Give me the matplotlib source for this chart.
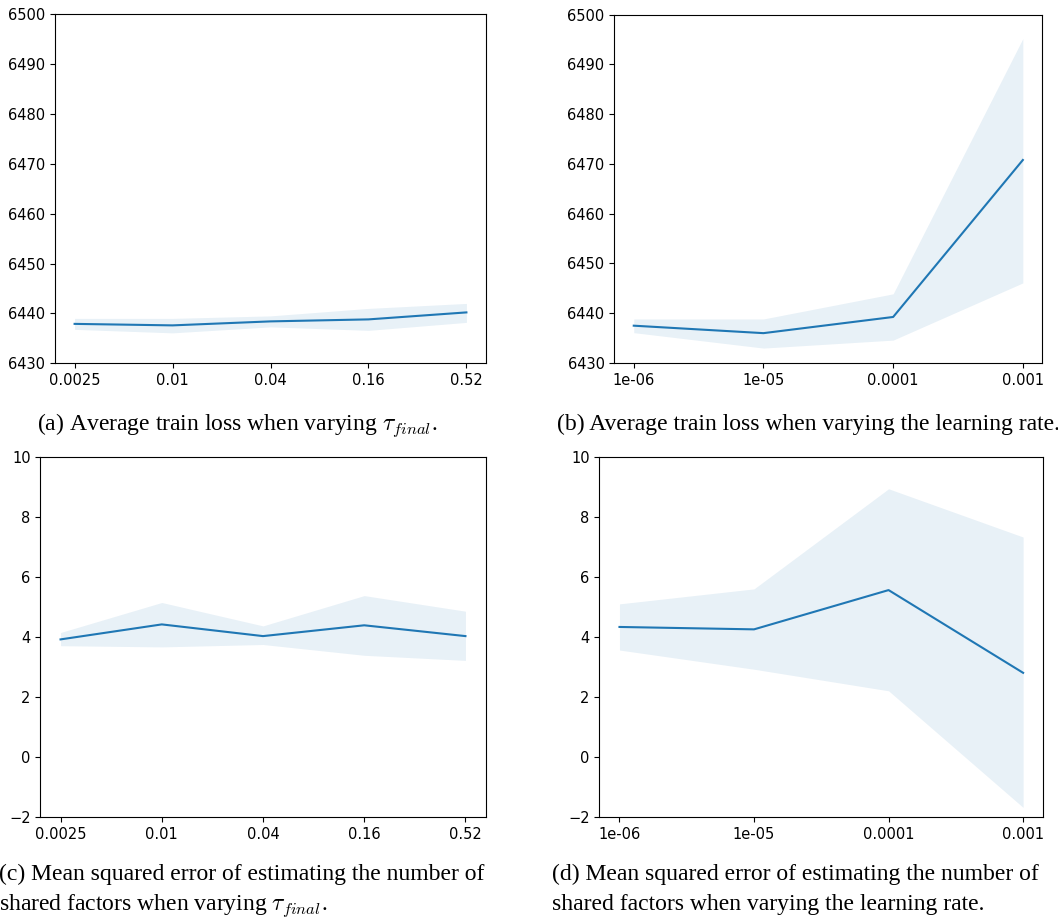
"""
Four panels: train loss and MSE of shared-factor estimate vs tau_final and learning rate.
Output: out.png
"""

import matplotlib
matplotlib.use("Agg")
import matplotlib.pyplot as plt
import numpy as np

W, H = 1058, 917

# --- data ---
tau_labels = ["0.0025", "0.01", "0.04", "0.16", "0.52"]
lr_labels = ["1e-06", "1e-05", "0.0001", "0.001"]

loss_tau_mean = [6437.9, 6437.6, 6438.4, 6438.8, 6440.2]
loss_tau_lo = [6436.8, 6436.1, 6437.3, 6436.6, 6438.2]
loss_tau_hi = [6439.0, 6439.0, 6439.5, 6441.0, 6442.0]

loss_lr_mean = [6437.5, 6436.0, 6439.25, 6470.8]
loss_lr_lo = [6436.1, 6433.0, 6434.6, 6446.1]
loss_lr_hi = [6438.85, 6438.85, 6443.9, 6495.2]

mse_tau_mean = [3.93, 4.43, 4.04, 4.40, 4.04]
mse_tau_lo = [3.72, 3.68, 3.76, 3.40, 3.23]
mse_tau_hi = [4.16, 5.16, 4.38, 5.39, 4.87]

mse_lr_mean = [4.34, 4.26, 5.57, 2.81]
mse_lr_lo = [3.57, 2.93, 2.21, -1.68]
mse_lr_hi = [5.11, 5.61, 8.95, 7.34]

captions = [
    (r"(a) Average train loss when varying $\tau_{final}$.",),
    ("(b) Average train loss when varying the learning rate.",),
    ("(c) Mean squared error of estimating the number of",
     r"shared factors when varying $\tau_{final}$."),
    ("(d) Mean squared error of estimating the number of",
     "shared factors when varying the learning rate."),
]

plt.rcParams["mathtext.fontset"] = "cm"

fig = plt.figure(figsize=(W / 100, H / 100), dpi=100)


def add_ax(x0, x1, y0, y1):
    return fig.add_axes([x0 / W, 1 - y1 / H, (x1 - x0) / W, (y1 - y0) / H])


panels = [
    (add_ax(55, 486, 14, 363.3), tau_labels, loss_tau_mean, loss_tau_lo, loss_tau_hi,
     (6430, 6500), np.arange(6430, 6501, 10)),
    (add_ax(614.3, 1042.3, 14.7, 363), lr_labels, loss_lr_mean, loss_lr_lo, loss_lr_hi,
     (6430, 6500), np.arange(6430, 6501, 10)),
    (add_ax(40.3, 485.7, 457.3, 817.3), tau_labels, mse_tau_mean, mse_tau_lo, mse_tau_hi,
     (-2, 10), np.arange(-2, 11, 2)),
    (add_ax(599.3, 1043.3, 457.3, 817), lr_labels, mse_lr_mean, mse_lr_lo, mse_lr_hi,
     (-2, 10), np.arange(-2, 11, 2)),
]

for ax, labels, mean, lo, hi, ylim, yticks in panels:
    x = np.arange(len(labels))
    ax.fill_between(x, lo, hi, color="tab:blue", alpha=0.1, linewidth=0)
    ax.plot(x, mean, color="tab:blue", linewidth=1.5)
    ax.set_xticks(x)
    ax.set_xticklabels(labels)
    ax.set_xlim(-0.05 * (len(x) - 1), (len(x) - 1) * 1.05)
    ax.set_ylim(*ylim)
    ax.set_yticks(yticks)
    ax.tick_params(labelsize=10.5)

# captions (serif, like the LaTeX document)
cap_kw = dict(family="Liberation Serif", fontsize=17, va="baseline", ha="left")
fig.text(37 / W, 1 - 430 / H, captions[0][0], **cap_kw)
fig.text(557 / W, 1 - 430 / H, captions[1][0], **cap_kw)
fig.text(-1 / W, 1 - 880 / H, captions[2][0], **cap_kw)
fig.text(-1 / W, 1 - 910 / H, captions[2][1], **cap_kw)
fig.text(552 / W, 1 - 880 / H, captions[3][0], **cap_kw)
fig.text(552 / W, 1 - 910 / H, captions[3][1], **cap_kw)

fig.savefig("out.png", dpi=100)
plt.close(fig)
